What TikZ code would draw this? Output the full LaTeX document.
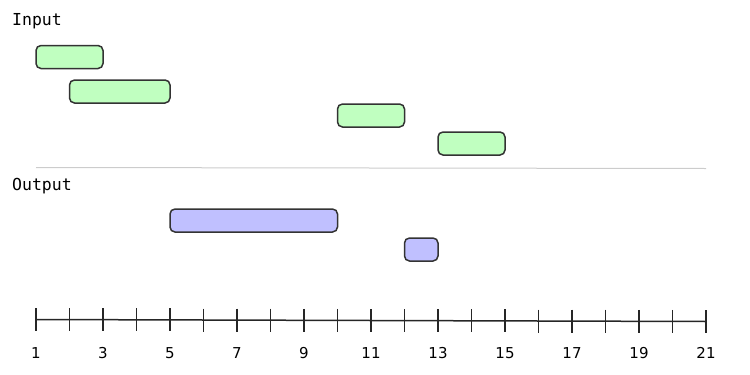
\documentclass[tikz,border=0pt]{standalone}
\usepackage{fontspec}
\setmainfont{DejaVu Sans}
\newfontfamily\monof{DejaVu Sans Mono}
\definecolor{ingreen}{HTML}{C0FFC0}
\definecolor{outblue}{HTML}{C0C0FF}
\definecolor{edge}{HTML}{333333}
\definecolor{sep}{HTML}{CCCCCC}
\begin{document}
\begin{tikzpicture}[x=1pt,y=-1pt,
  ibox/.style={draw=edge,line width=1.5pt,rounded corners=5pt,inner sep=0pt,outer sep=0pt,anchor=north west,minimum height=23pt},
  gbox/.style={ibox,fill=ingreen},
  pbox/.style={ibox,fill=outblue},
  title/.style={font=\monof\fontsize{16.5}{20}\selectfont,anchor=base west,inner sep=0pt},
  tick/.style={font=\fontsize{15}{18}\selectfont,anchor=base,inner sep=0pt},
  axisline/.style={line width=1.5pt,draw=black!85}]
\useasboundingbox (0,0) rectangle (750,375);
\def\ux{33.5}
\node[title] (tin) at (12,25) {Input};
\node[title] (tout) at (12,190) {Output};
% inputs
\node[gbox,minimum width={2*\ux}] (i1) at ({36+\ux*0},45.5) {};
\node[gbox,minimum width={3*\ux}] (i2) at ({36+\ux*1},80) {};
\node[gbox,minimum width={2*\ux}] (i3) at ({36+\ux*9},104) {};
\node[gbox,minimum width={2*\ux}] (i4) at ({36+\ux*12},132) {};
% separator
\coordinate (s0) at (36,167.5);
\coordinate (s1) at (706,168.5);
\draw[sep,line width=1pt] (s0) -- (s1);
% outputs
\node[pbox,minimum width={5*\ux}] (o1) at ({36+\ux*4},209) {};
\node[pbox,minimum width={1*\ux}] (o2) at ({36+\ux*11},238) {};
% axis
\coordinate (a0) at (36,319.5);
\coordinate (a1) at (706,321.5);
\draw[axisline] (a0) -- (a1);
\foreach \i in {0,...,20}{
  \pgfmathsetmacro{\yy}{319.5+2*\i/20}
  \draw[axisline] ({36+\ux*\i},{\yy-11.5}) -- ({36+\ux*\i},{\yy+11.5});
}
\foreach \i in {1,3,...,21}{
  \node[tick] (l\i) at ({36+\ux*(\i-1)},358) {\i};
}
\end{tikzpicture}
\end{document}
